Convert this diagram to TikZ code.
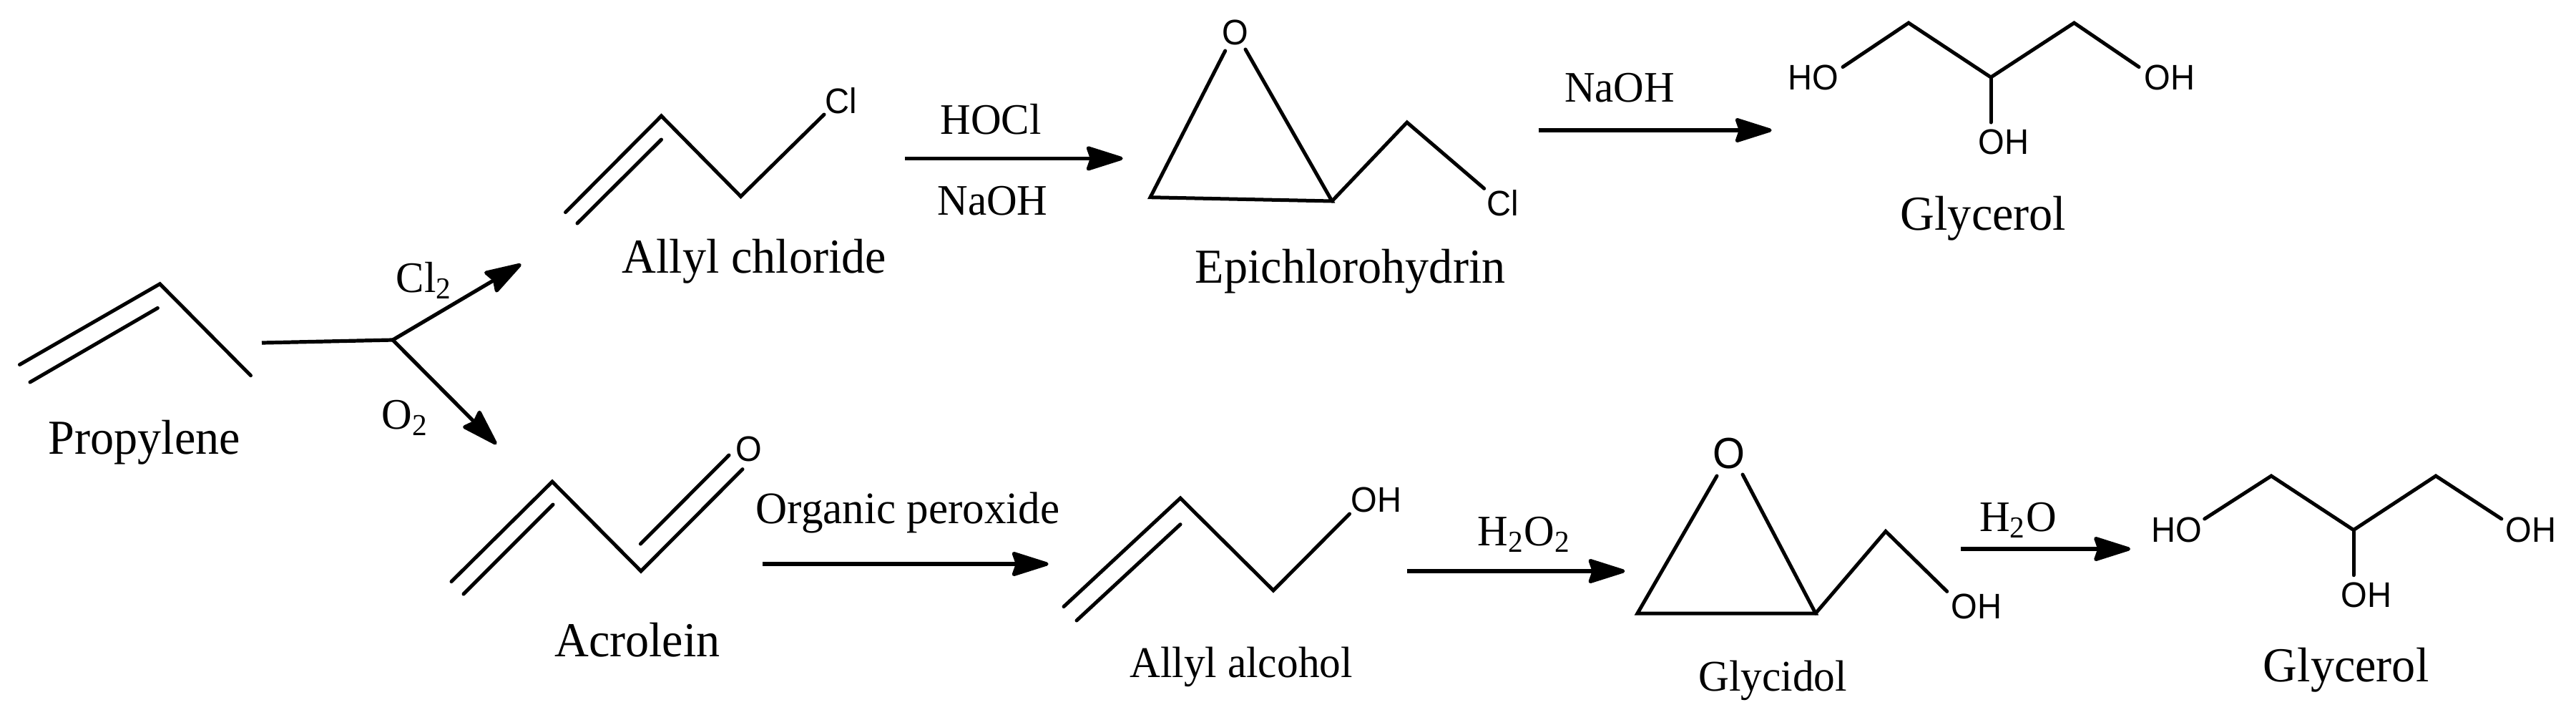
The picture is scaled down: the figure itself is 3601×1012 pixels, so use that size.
\documentclass[tikz,border=0pt]{standalone}
\usepackage{fontspec}
\setmainfont[FakeStretch=0.97]{Liberation Serif}
\setsansfont[FakeStretch=0.95]{Liberation Sans}
\usetikzlibrary{arrows.meta}

\begin{document}
\begin{tikzpicture}[x=0.01cm,y=-0.01cm,
nm/.style={anchor=base,inner sep=0pt,text=black,font=\fontsize{19.4pt}{20pt}\selectfont},
nmsm/.style={anchor=base,inner sep=0pt,text=black,font=\fontsize{17.4pt}{18pt}\selectfont},
rg/.style={anchor=base,inner sep=0pt,text=black,font=\fontsize{17.3pt}{18pt}\selectfont},
atm/.style={inner sep=0pt,text=black,font=\sffamily\fontsize{14.1pt}{15pt}\selectfont},
bond/.style={line width=0.05cm,line cap=round,line join=miter},
rxn/.style={line width=0.052cm,-{Stealth[length=0.58cm,width=0.36cm,inset=0.06cm,round]}}]
\useasboundingbox (0,0) rectangle (3601,1012);

% propylene
\coordinate (p1) at (27.5,509.5);
\coordinate (p2) at (223.5,396.7);
\coordinate (p3) at (350.5,524.7);
\coordinate (p4) at (42,534);
\coordinate (p5) at (220.4,430.4);
\draw[bond] (p1) -- (p2) -- (p3);
\draw[bond] (p4) -- (p5);
\node[nm] (propylene) at (202,634) {Propylene};

% branching arrows
\coordinate (s0) at (366,479);
\coordinate (s1) at (549,475);
\coordinate (s2) at (728.5,369);
\coordinate (s3) at (694,620.7);
\draw[line width=0.052cm] (s0) -- (s1);
\draw[rxn] (s1) -- (s2);
\draw[rxn] (s1) -- (s3);
\node[rg,anchor=base west] (cl2) at (553,408) {Cl\textsubscript{2}};
\node[rg,anchor=base west] (o2) at (533,599) {O\textsubscript{2}};

% allyl chloride
\coordinate (a1) at (790.5,296.6);
\coordinate (a2) at (924.5,162);
\coordinate (a3) at (1035.5,274.5);
\coordinate (a4) at (1152,160);
\coordinate (a5) at (807,312);
\coordinate (a6) at (924.5,195);
\draw[bond] (a1) -- (a2) -- (a3) -- (a4);
\draw[bond] (a5) -- (a6);
\node[atm] (acl) at (1176,140.5) {Cl};
\node[nm] (allylcl) at (1054.5,381) {Allyl chloride};

% HOCl / NaOH
\coordinate (b1) at (1265,221.4);
\coordinate (b2) at (1569.6,221.4);
\draw[rxn] (b1) -- (b2);
\node[rg] (hocl) at (1385,187) {HOCl};
\node[rg] (naoh1) at (1387.5,300) {NaOH};

% epichlorohydrin
\coordinate (e1) at (1712.7,71);
\coordinate (e2) at (1608,275.7);
\coordinate (e3) at (1862,281);
\coordinate (e4) at (1741,69);
\coordinate (e5) at (1966.8,171);
\coordinate (e6) at (2074.7,263.4);
\draw[bond] (e1) -- (e2) -- (e3) -- (e4);
\draw[bond] (e3) -- (e5) -- (e6);
\node[atm] (eo) at (1726.5,45) {O};
\node[atm] (ecl) at (2101,284) {Cl};
\node[nm] (epi) at (1887.6,395) {Epichlorohydrin};

% NaOH
\coordinate (c1) at (2150.5,182);
\coordinate (c2) at (2476.6,182);
\draw[rxn] (c1) -- (c2);
\node[rg] (naoh2) at (2264,142) {NaOH};

% glycerol, top
\coordinate (g1) at (2576,93.6);
\coordinate (g2) at (2668,32);
\coordinate (g3) at (2783,108);
\coordinate (g4) at (2899.4,32);
\coordinate (g5) at (2990,93.6);
\coordinate (g6) at (2783,171);
\draw[bond] (g1) -- (g2) -- (g3) -- (g4) -- (g5);
\draw[bond] (g3) -- (g6);
\node[atm] (gho) at (2535,108.5) {HO};
\node[atm] (goh1) at (3033,108.5) {OH};
\node[atm] (goh2) at (2801,198) {OH};
\node[nm] (glyc1) at (2772.5,321) {Glycerol};

% acrolein
\coordinate (r1) at (631,812.6);
\coordinate (r2) at (772,673);
\coordinate (r3) at (896,798);
\coordinate (r4) at (1038,655.6);
\coordinate (r5) at (648,830);
\coordinate (r6) at (773,705);
\coordinate (r7) at (895.4,760);
\coordinate (r8) at (1019,636);
\draw[bond] (r1) -- (r2) -- (r3) -- (r4);
\draw[bond] (r5) -- (r6);
\draw[bond] (r7) -- (r8);
\node[atm] (ro) at (1047,627.6) {O};
\node[nm] (acrolein) at (891,917) {Acrolein};

% organic peroxide
\coordinate (d1) at (1066,788);
\coordinate (d2) at (1465.6,788);
\draw[rxn] (d1) -- (d2);
\node[rg,font=\fontsize{17.9pt}{18pt}\selectfont] (perox) at (1269,731) {Organic peroxide};

% allyl alcohol
\coordinate (l1) at (1487,847.6);
\coordinate (l2) at (1650,696);
\coordinate (l3) at (1780,825);
\coordinate (l4) at (1886.5,718);
\coordinate (l5) at (1505,867);
\coordinate (l6) at (1650,732.7);
\draw[bond] (l1) -- (l2) -- (l3) -- (l4);
\draw[bond] (l5) -- (l6);
\node[atm] (loh) at (1924,698.5) {OH};
\node[nmsm] (allylal) at (1735,946) {Allyl alcohol};

% H2O2
\coordinate (f1) at (1967,798);
\coordinate (f2) at (2271.4,798);
\draw[rxn] (f1) -- (f2);
\node[rg] (h2o2) at (2130.6,762) {H\textsubscript{2}O\textsubscript{2}};

% glycidol
\coordinate (t1) at (2400,665);
\coordinate (t2) at (2289,857);
\coordinate (t3) at (2538,857);
\coordinate (t4) at (2436,663);
\coordinate (t5) at (2636,742.4);
\coordinate (t6) at (2721.7,826.4);
\draw[bond] (t1) -- (t2) -- (t3) -- (t4);
\draw[bond] (t3) -- (t5) -- (t6);
\node[atm,font=\sffamily\fontsize{17.3pt}{18pt}\selectfont] (to) at (2417,634) {O};
\node[atm] (toh) at (2763,847.6) {OH};
\node[nmsm] (glycidol) at (2478,965) {Glycidol};

% H2O
\coordinate (h1) at (2740.8,767);
\coordinate (h2) at (2978,767);
\draw[rxn] (h1) -- (h2);
\node[rg] (h2o) at (2821,742) {H\textsubscript{2}O};

% glycerol, bottom
\coordinate (k1) at (3081.7,725);
\coordinate (k2) at (3175,665);
\coordinate (k3) at (3290,740.5);
\coordinate (k4) at (3405,665);
\coordinate (k5) at (3496.8,725);
\coordinate (k6) at (3290,803.7);
\draw[bond] (k1) -- (k2) -- (k3) -- (k4) -- (k5);
\draw[bond] (k3) -- (k6);
\node[atm] (kho) at (3043,740.5) {HO};
\node[atm] (koh1) at (3538,740.5) {OH};
\node[atm] (koh2) at (3308,831) {OH};
\node[nm] (glyc2) at (3279.6,952) {Glycerol};
\end{tikzpicture}
\end{document}
